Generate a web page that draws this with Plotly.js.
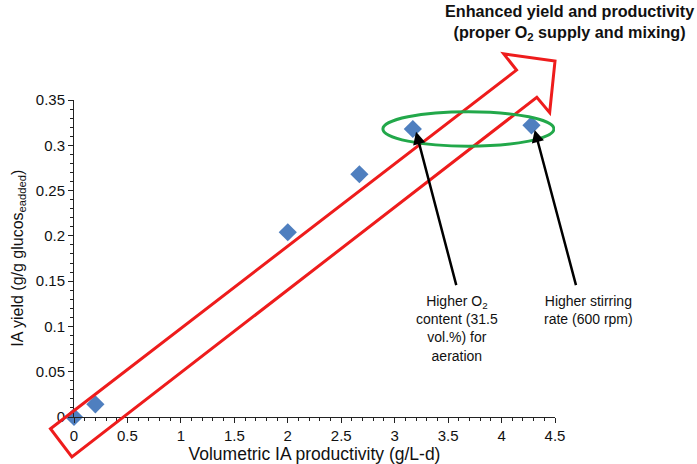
<!DOCTYPE html>
<html>
<head>
<meta charset="utf-8">
<script src="https://cdn.plot.ly/plotly-3.0.1.min.js"></script>
<style>
  html, body { margin: 0; padding: 0; background: #fff; }
  #chart { width: 697px; height: 464px; }
</style>
</head>
<body>
<div id="chart"></div>
<script>
// measured points
var productivity = [0, 0.2, 2.0, 2.67, 3.17, 4.28];
var iaYield = [0, 0.014, 0.204, 0.268, 0.318, 0.322];

var xTicks = [0, 0.5, 1, 1.5, 2, 2.5, 3, 3.5, 4, 4.5];
var yTicks = [0, 0.05, 0.1, 0.15, 0.2, 0.25, 0.3, 0.35];

var xMax = 4.5;
var yMax = 0.35;

// big red arrow outline, in axis units (it runs past the axes)
var arrowX = [-0.22, 4.14, 4.02, 4.50, 4.45, 4.33, -0.02];
var arrowY = [-0.013, 0.383, 0.401, 0.393, 0.336, 0.353, -0.044];

// axis units -> paper units so the shape isn't clipped
function toPaper(xs, ys) {
    let parts = [];
    for (let i = 0; i < xs.length; i++) {
        parts.push((i === 0 ? 'M' : 'L') + (xs[i] / xMax).toFixed(4) + ',' + (ys[i] / yMax).toFixed(4));
    }
    return parts.join(' ') + ' Z';
}

var font = 'Liberation Sans, Arial, sans-serif';

var points = {
    x: productivity,
    y: iaYield,
    mode: 'markers',
    type: 'scatter',
    cliponaxis: false,
    marker: {
        symbol: 'diamond',
        size: 14,
        color: '#4f7fbf'
    },
    hoverinfo: 'x+y'
};

var shapes = [
    {
        type: 'path',
        xref: 'paper',
        yref: 'paper',
        path: toPaper(arrowX, arrowY),
        line: {color: '#ee1c1c', width: 3},
        layer: 'above'
    },
    {
        type: 'circle',
        xref: 'x',
        yref: 'y',
        x0: 2.89, x1: 4.49,
        y0: 0.299, y1: 0.337,
        line: {color: '#22a84a', width: 3},
        layer: 'above'
    }
];

var annotations = [
    {
        xref: 'paper', yref: 'paper',
        x: 1.031, y: 1.315,
        xanchor: 'center', yanchor: 'top',
        text: '<b>Enhanced yield and productivity<br>(proper O<sub>2</sub> supply and mixing)</b>',
        showarrow: false,
        align: 'center',
        font: {family: font, size: 16.2, color: '#111'}
    },
    {
        xref: 'paper', yref: 'paper',
        x: -0.116, y: 0.50,
        xanchor: 'center', yanchor: 'middle',
        textangle: -90,
        text: 'IA yield (g/g glucos<sub>eadded</sub>)',
        showarrow: false,
        font: {family: font, size: 16, color: '#111'}
    },
    {
        xref: 'x', yref: 'y', axref: 'x', ayref: 'y',
        x: 3.20, y: 0.315, ax: 3.58, ay: 0.144,
        text: '', showarrow: true,
        arrowhead: 2, arrowsize: 1, arrowwidth: 2.5, arrowcolor: '#000'
    },
    {
        xref: 'x', yref: 'y', axref: 'x', ayref: 'y',
        x: 4.31, y: 0.317, ax: 4.70, ay: 0.144,
        text: '', showarrow: true,
        arrowhead: 2, arrowsize: 1, arrowwidth: 2.5, arrowcolor: '#000'
    },
    {
        xref: 'x', yref: 'y',
        x: 3.58, y: 0.139,
        xanchor: 'center', yanchor: 'top',
        text: 'Higher O<sub>2</sub><br>content (31.5<br>vol.%) for<br>aeration',
        showarrow: false,
        align: 'center',
        font: {family: font, size: 14, color: '#111'}
    },
    {
        xref: 'paper', yref: 'y',
        x: 1.07, y: 0.139,
        xanchor: 'center', yanchor: 'top',
        text: 'Higher stirring<br>rate (600 rpm)',
        showarrow: false,
        align: 'center',
        font: {family: font, size: 14, color: '#111'}
    }
];

var layout = {
    width: 697,
    height: 464,
    margin: {l: 74, r: 142, t: 100, b: 47},
    paper_bgcolor: '#fff',
    plot_bgcolor: '#fff',
    showlegend: false,
    font: {family: font, size: 15, color: '#111'},
    xaxis: {
        range: [0, xMax],
        tickvals: xTicks,
        ticktext: xTicks.map(String),
        showgrid: false,
        zeroline: false,
        showline: true,
        linecolor: '#222',
        linewidth: 1,
        ticks: 'outside',
        ticklen: 5,
        tickcolor: '#222',
        minor: {dtick: 0.1, ticks: 'outside', ticklen: 3, tickcolor: '#222', showgrid: false},
        tickfont: {size: 15},
        title: {text: 'Volumetric IA productivity (g/L-d)', font: {size: 17.5}, standoff: 3}
    },
    yaxis: {
        range: [0, yMax],
        tickvals: yTicks,
        ticktext: yTicks.map(String),
        showgrid: false,
        zeroline: false,
        showline: true,
        linecolor: '#222',
        linewidth: 1,
        ticks: 'outside',
        ticklen: 5,
        tickcolor: '#222',
        minor: {dtick: 0.01, ticks: 'outside', ticklen: 3, tickcolor: '#222', showgrid: false},
        tickfont: {size: 15}
    },
    shapes: shapes,
    annotations: annotations
};

Plotly.newPlot('chart', [points], layout, {displayModeBar: false, responsive: false});
</script>
</body>
</html>
